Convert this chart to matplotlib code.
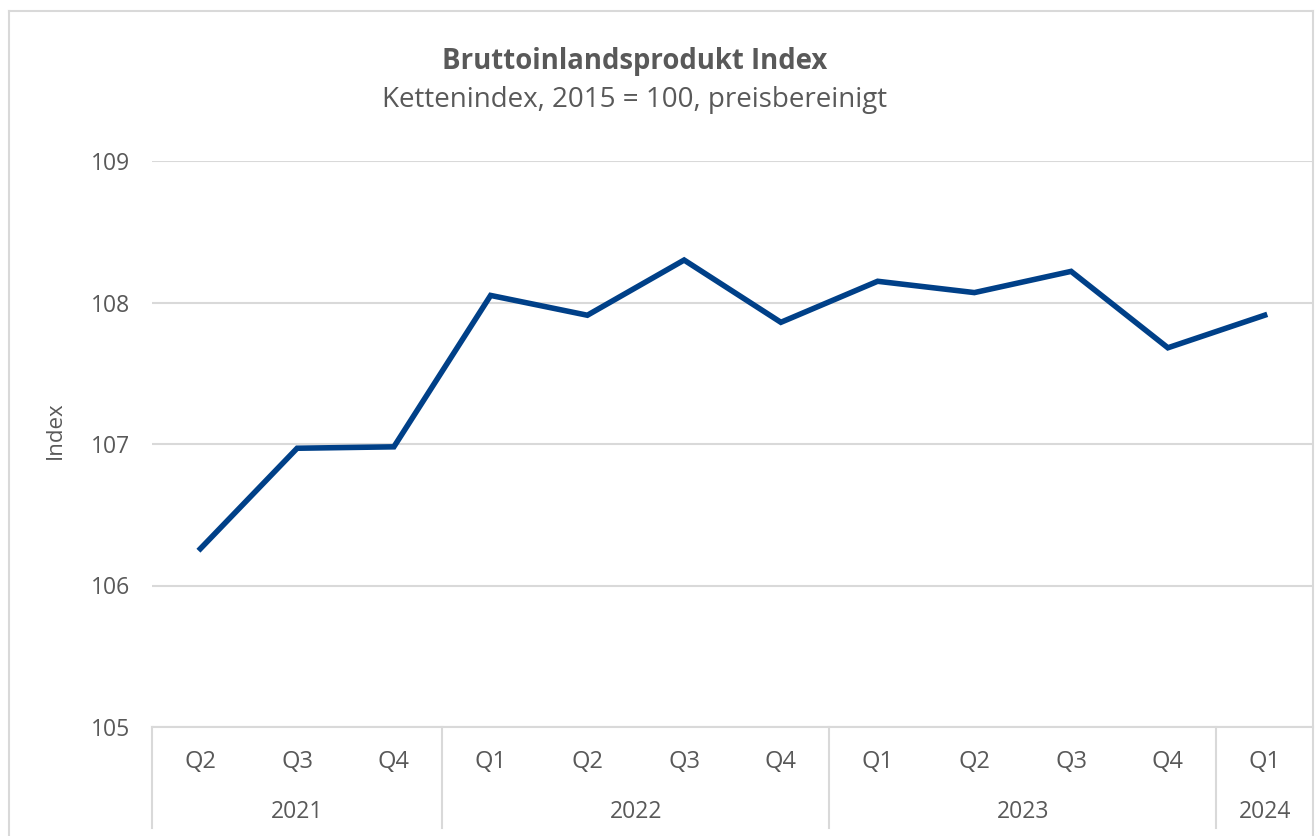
import matplotlib
matplotlib.use("Agg")
import matplotlib.pyplot as plt
from matplotlib.lines import Line2D
import matplotlib.transforms as mtransforms

quarters = ["Q2", "Q3", "Q4", "Q1", "Q2", "Q3", "Q4", "Q1", "Q2", "Q3", "Q4", "Q1"]
years = ["2021", "2022", "2023", "2024"]
year_counts = [3, 4, 4, 1]
values = [106.26, 106.97, 106.98, 108.05, 107.91, 108.30, 107.86, 108.15, 108.07, 108.22, 107.68, 107.91]
yticks = [105, 106, 107, 108, 109]

plt.rcParams['font.family'] = ['Open Sans', 'DejaVu Sans']
TXT = '#595959'
GRID = '#D9D9D9'
LINE = '#004088'

W, H = 1316, 836
fig = plt.figure(figsize=(W / 100, H / 100), dpi=100)

def fx(px):
    return px / W

def fy(py):
    return 1 - py / H

ax = fig.add_axes([fx(152), fy(727), fx(1313) - fx(152), fy(161) - fy(727)])
x = list(range(len(values)))
ax.plot(x, values, color=LINE, lw=4, solid_joinstyle='miter', zorder=3)
ax.set_xlim(-0.5, len(values) - 0.5)
ax.set_ylim(105, 109)
ax.set_yticks(yticks)
ax.set_yticklabels([str(v) for v in yticks], color=TXT, fontsize=16.5)
ax.tick_params(axis='y', length=0, pad=16)
ax.set_xticks([])
for s in ['top', 'right', 'left']:
    ax.spines[s].set_visible(False)
ax.spines['bottom'].set_color(GRID)
ax.spines['bottom'].set_linewidth(1.5)
ax.grid(axis='y', color=GRID, lw=1.5)
ax.set_axisbelow(True)
ax.set_ylabel('Index', color=TXT, fontsize=16)
h_ax = 727 - 161
w_ax = 1313 - 152
ax.yaxis.set_label_coords(-(152 - 66) / w_ax, (727 - 430) / h_ax)

trans = mtransforms.blended_transform_factory(ax.transData, ax.transAxes)
q_y = -(762 - 727) / h_ax
yr_y = -(812 - 727) / h_ax
sep_bot = -(828 - 727) / h_ax

for i, q in enumerate(quarters):
    ax.text(i, q_y, q, transform=trans, ha='center', va='center', color=TXT, fontsize=17)

start = 0
bounds = [-0.5]
for yr, n in zip(years, year_counts):
    center = start + (n - 1) / 2
    ax.text(center, yr_y, yr, transform=trans, ha='center', va='center', color=TXT, fontsize=16.5)
    start += n
    bounds.append(start - 0.5)

for b in bounds[:-1]:
    ax.plot([b, b], [0, sep_bot], transform=trans, color=GRID, lw=1.5, clip_on=False)

fig.text(fx(635), fy(61), 'Bruttoinlandsprodukt Index', ha='center', va='center',
         color=TXT, fontsize=19.8, fontweight='bold')
fig.text(fx(635), fy(100), 'Kettenindex, 2015 = 100, preisbereinigt', ha='center', va='center',
         color=TXT, fontsize=20)

# outer chart frame
for xs, ys in [([9, 1313], [11, 11]), ([9, 9], [11, 836]), ([1313, 1313], [11, 836])]:
    fig.add_artist(Line2D([fx(v) for v in xs], [fy(v) for v in ys], color=GRID, lw=1.5))

fig.savefig('out.png', dpi=100, facecolor='white')
